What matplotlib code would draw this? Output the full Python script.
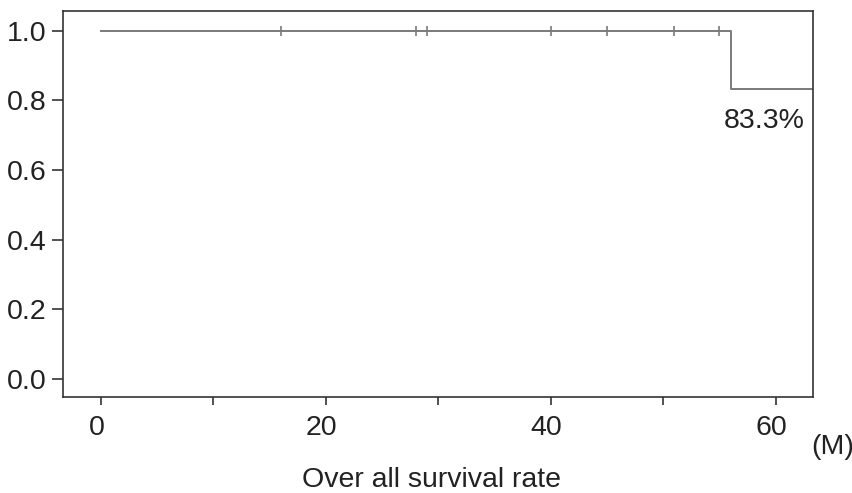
import matplotlib
matplotlib.use('Agg')
import numpy as np
from matplotlib import pyplot as plt
from matplotlib import transforms as mtransforms

# Kaplan-Meier curve, overall survival (months)
step_times = [0, 56, 63.3]
step_surv = [1.0, 0.833, 0.833]
censor_times = [16, 28, 29, 40, 45, 51, 55]
censor_surv = [1.0] * len(censor_times)
final_label = '83.3%'

xticks_major = [0, 20, 40, 60]
xticks_minor = [10, 30, 50]
yticks = [0.0, 0.2, 0.4, 0.6, 0.8, 1.0]

plt.rcParams['font.family'] = ['Liberation Sans', 'DejaVu Sans']
FS = 20.5

fig = plt.figure(figsize=(8.53, 4.93), dpi=100)
ax = fig.add_axes([0.0742, 0.1947, 0.8786, 0.7830])

curve_col = '#7a7a7a'
ax.step(step_times, step_surv, where='post', color=curve_col, lw=1.4)
ax.plot(censor_times, censor_surv, ls='none', marker='|', ms=7, mew=1.2, color=curve_col)

ax.set_xlim(-3.35, 63.3)
ax.set_ylim(-0.052, 1.056)

ax.set_xticks(xticks_major)
ax.set_xticks(xticks_minor, minor=True)
ax.set_xticklabels([str(t) for t in xticks_major])
ax.set_yticks(yticks)
ax.set_yticklabels(['%.1f' % t for t in yticks])

for s in ax.spines.values():
    s.set_color('#333333')
    s.set_linewidth(1.2)

ax.tick_params(axis='y', which='major', length=8, width=1.2, color='#333333',
               labelsize=FS, labelcolor='#222222', pad=4)
ax.tick_params(axis='x', which='both', length=6, width=1.2, color='#333333',
               labelsize=FS, labelcolor='#222222', pad=7)
shift = mtransforms.ScaledTranslation(-4 / 100, 0, fig.dpi_scale_trans)
for lab in ax.get_xticklabels():
    lab.set_transform(lab.get_transform() + shift)

ax.text(59.0, 0.74, final_label, ha='center', va='center', fontsize=FS, color='#222222')

fig.text(833 / 853, 1 - 447 / 493, '(M)', ha='center', va='center', fontsize=FS, color='#222222')
fig.text(432 / 853, 1 - 480 / 493, 'Over all survival rate', ha='center', va='center',
         fontsize=FS, color='#222222')

fig.savefig('out.png', dpi=100)
